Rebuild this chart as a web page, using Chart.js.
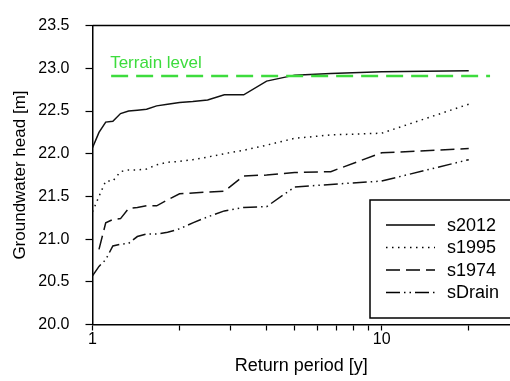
<!DOCTYPE html>
<html lang="en">
<head>
<meta charset="UTF-8">
<title>Groundwater head vs return period</title>
<style>
  html, body { margin: 0; padding: 0; background: #fff; overflow: hidden; }
  #wrap { width: 510px; height: 381px; }
</style>
</head>
<body>
<div id="wrap"><canvas id="headChart" width="510" height="381"></canvas></div>
<script src="https://cdn.jsdelivr.net/npm/chart.js"></script>
<script>
// return periods (plotting positions) shared by all series
const returnPeriods = [1, 1.053, 1.111, 1.176, 1.25, 1.333, 1.429, 1.538, 1.667, 1.818,
                       2, 2.222, 2.5, 2.857, 3.333, 4, 5, 6.667, 10, 20];
const s2012 = [22.07, 22.25, 22.37, 22.38, 22.47, 22.50, 22.51, 22.52, 22.56, 22.58,
               22.60, 22.61, 22.63, 22.69, 22.69, 22.85, 22.92, 22.94, 22.96, 22.97];
const s1995 = [21.32, 21.50, 21.68, 21.68, 21.79, 21.81, 21.81, 21.82, 21.87, 21.90,
               21.91, 21.93, 21.96, 22.00, 22.04, 22.10, 22.18, 22.22, 22.24, 22.58];
const s1974 = [null, 20.88, 21.19, 21.23, 21.24, 21.36, 21.37, 21.39, 21.39, 21.46,
               21.53, 21.54, 21.55, 21.56, 21.74, 21.75, 21.78, 21.79, 22.01, 22.06];
const sDrain = [20.57, 20.68, 20.76, 20.92, 20.94, 20.95, 21.03, 21.06, 21.06, 21.08,
                21.12, 21.19, 21.26, 21.33, 21.37, 21.38, 21.61, 21.64, 21.68, 21.93];
const terrainLevel = 22.91;
const terrainRange = [1.16, 23.7];
const xTickValues = [1, 2, 3, 4, 5, 6, 7, 8, 9, 10, 20];
const xLabelValues = [1, 10];

const FONT = 'Arial, "Liberation Sans", sans-serif';
const GREEN = '#3ddc3d';

const toPoints = ys => returnPeriods.map((x, i) => ({ x: x, y: ys[i] }));

const series = [
    { label: 's2012', data: toPoints(s2012), dash: [] },
    { label: 's1995', data: toPoints(s1995), dash: [1.5, 4.5] },
    { label: 's1974', data: toPoints(s1974), dash: [14, 6] },
    { label: 'sDrain', data: toPoints(sDrain), dash: [14, 4, 1.5, 4, 1.5, 4] },
];

// top frame line, terrain label and the boxed legend
const extras = {
    id: 'extras',
    afterDraw(chart) {
        const { ctx, chartArea, scales } = chart;
        ctx.save();
        ctx.strokeStyle = '#000';
        ctx.lineWidth = 1.5;
        ctx.beginPath();
        ctx.moveTo(chartArea.left, chartArea.top);
        ctx.lineTo(chartArea.right, chartArea.top);
        ctx.stroke();

        ctx.fillStyle = GREEN;
        ctx.font = '17px ' + FONT;
        ctx.textBaseline = 'alphabetic';
        ctx.fillText('Terrain level', scales.x.getPixelForValue(terrainRange[0]) - 1,
            scales.y.getPixelForValue(terrainLevel) - 8);

        // legend box
        const bx = 370, by = 200, bw = 150, bh = 118;
        ctx.lineWidth = 1.5;
        ctx.strokeStyle = '#000';
        ctx.fillStyle = '#fff';
        ctx.fillRect(bx, by, bw, bh);
        ctx.strokeRect(bx, by, bw, bh);
        ctx.font = '18px ' + FONT;
        ctx.textBaseline = 'middle';
        series.forEach((s, i) => {
            const yy = by + 25 + i * 22.5;
            ctx.setLineDash(s.dash);
            ctx.lineWidth = 1.5;
            ctx.beginPath();
            ctx.moveTo(386, yy);
            ctx.lineTo(435, yy);
            ctx.stroke();
            ctx.setLineDash([]);
            ctx.fillStyle = '#000';
            ctx.fillText(s.label, 447, yy + 1);
        });
        ctx.restore();
    }
};

const datasets = series.map(s => ({
    label: s.label,
    data: s.data,
    borderColor: '#111',
    borderWidth: 1.5,
    borderDash: s.dash,
    pointRadius: 0,
    tension: 0,
    fill: false,
}));
datasets.unshift({
    label: 'Terrain level',
    data: terrainRange.map(x => ({ x: x, y: terrainLevel })),
    borderColor: GREEN,
    borderWidth: 2.5,
    borderDash: [17, 8],
    pointRadius: 0,
    fill: false,
});

new Chart(document.getElementById('headChart'), {
    type: 'line',
    data: { datasets: datasets },
    options: {
        responsive: false,
        animation: false,
        layout: { padding: { top: 19, right: 0, left: 0, bottom: 0 } },
        plugins: { legend: { display: false }, tooltip: { enabled: false } },
        scales: {
            x: {
                type: 'logarithmic',
                min: 1,
                max: 27.78,
                border: { display: true, color: '#000', width: 1.5 },
                grid: { drawOnChartArea: false, drawTicks: true, tickLength: 6, color: '#000', tickWidth: 1.2 },
                afterBuildTicks: scale => { scale.ticks = xTickValues.map(v => ({ value: v })); },
                afterFit: scale => { scale.height = 56.5; },
                ticks: {
                    autoSkip: false, maxRotation: 0, padding: -1,
                    color: '#000', font: { family: FONT, size: 16 },
                    callback: v => xLabelValues.includes(v) ? String(v) : ''
                },
                title: { display: true, text: 'Return period [y]', color: '#000',
                         font: { family: FONT, size: 18 }, padding: { top: 0, bottom: 4 } }
            },
            y: {
                min: 20,
                max: 23.5,
                border: { display: true, color: '#000', width: 1.5 },
                grid: { drawOnChartArea: false, drawTicks: true, tickLength: 7, color: '#000', tickWidth: 1.2 },
                afterFit: scale => { scale.width = 92.5; },
                ticks: {
                    stepSize: 0.5, padding: 16,
                    color: '#000', font: { family: FONT, size: 16 },
                    callback: v => v.toFixed(1)
                },
                title: { display: true, text: 'Groundwater head [m]', color: '#000',
                         font: { family: FONT, size: 17 }, padding: { top: 10, bottom: 0 } }
            }
        }
    },
    plugins: [extras]
});
</script>
</body>
</html>
